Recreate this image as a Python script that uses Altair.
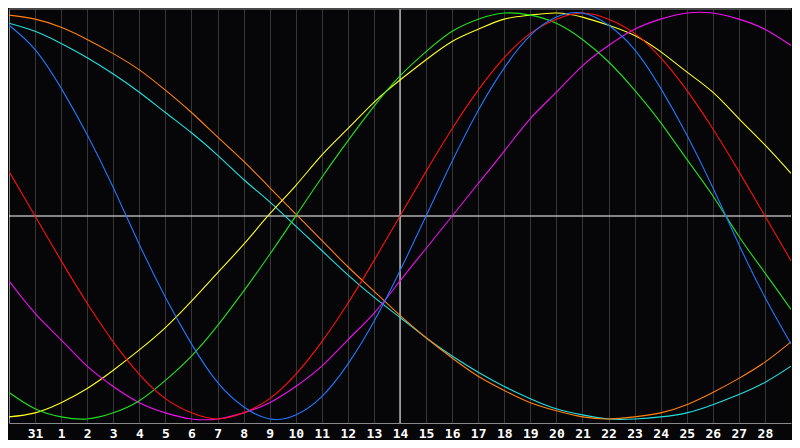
import altair as alt
import pandas as pd

# day index 0..30 across the plot, labelled gridlines at 1..29
days = list(range(31))
day_ticks = list(range(1, 30))
day_labels = ["31"] + [str(d) for d in range(1, 29)]
today = 15

# cycle values, one per day
physical = [0.94, 0.82, 0.63, 0.40, 0.14, -0.14, -0.40, -0.63, -0.82, -0.94, -1.0,
            -0.98, -0.89, -0.73, -0.52, -0.27, 0.0, 0.27, 0.52, 0.73, 0.89, 0.98,
            1.0, 0.94, 0.82, 0.63, 0.40, 0.14, -0.14, -0.40, -0.63]
emotional = [0.22, 0.0, -0.22, -0.43, -0.62, -0.78, -0.90, -0.97, -1.0, -0.97, -0.90,
             -0.78, -0.62, -0.43, -0.22, 0.0, 0.22, 0.43, 0.62, 0.78, 0.90, 0.97,
             1.0, 0.97, 0.90, 0.78, 0.62, 0.43, 0.22, 0.0, -0.22]
intellectual = [-0.87, -0.95, -0.99, -1.0, -0.97, -0.91, -0.81, -0.69, -0.54, -0.37, -0.19,
                0.0, 0.19, 0.37, 0.54, 0.69, 0.81, 0.91, 0.97, 1.0, 0.99, 0.95,
                0.87, 0.76, 0.62, 0.46, 0.28, 0.10, -0.10, -0.28, -0.46]
intuitive = [-0.32, -0.48, -0.61, -0.74, -0.84, -0.92, -0.97, -1.0, -1.0, -0.97, -0.92,
             -0.84, -0.74, -0.61, -0.48, -0.32, -0.16, 0.0, 0.16, 0.32, 0.48, 0.61,
             0.74, 0.84, 0.92, 0.97, 1.0, 1.0, 0.97, 0.92, 0.84]
aesthetic = [-0.99, -0.97, -0.92, -0.85, -0.76, -0.66, -0.55, -0.42, -0.28, -0.14, 0.01,
             0.15, 0.30, 0.43, 0.56, 0.67, 0.77, 0.86, 0.92, 0.97, 0.99, 1.0,
             0.98, 0.94, 0.89, 0.81, 0.71, 0.61, 0.48, 0.35, 0.21]
awareness = [0.99, 0.97, 0.93, 0.87, 0.80, 0.72, 0.62, 0.51, 0.39, 0.27, 0.14,
             0.01, -0.12, -0.25, -0.37, -0.49, -0.60, -0.70, -0.79, -0.86, -0.92, -0.96,
             -0.99, -1.0, -0.99, -0.97, -0.93, -0.87, -0.80, -0.72, -0.62]
spiritual = [0.95, 0.91, 0.85, 0.78, 0.70, 0.61, 0.51, 0.41, 0.30, 0.18, 0.07,
             -0.05, -0.17, -0.29, -0.40, -0.50, -0.60, -0.69, -0.77, -0.84, -0.90, -0.95,
             -0.98, -1.0, -1.0, -0.99, -0.97, -0.93, -0.88, -0.82, -0.74]

cycles = ["Spiritual", "Awareness", "Aesthetic", "Intuitive", "Intellectual", "Emotional", "Physical"]
colors = ["#20e0e0", "#ff8010", "#ffff20", "#f010f0", "#20e020", "#ff1010", "#1e78ff"]
values = [spiritual, awareness, aesthetic, intuitive, intellectual, emotional, physical]

rows = []
for name, vals in zip(cycles, values):
    for d, v in zip(days, vals):
        rows.append({"day": d, "cycle": name, "value": v})
df = pd.DataFrame(rows)

label_expr = "[" + ",".join(f"'{s}'" for s in day_labels) + "][datum.value - 1]"

x_enc = alt.X(
    "day:Q",
    scale=alt.Scale(domain=[0, 30], nice=False, zero=False),
    axis=alt.Axis(
        values=day_ticks,
        labelExpr=label_expr,
        title=None,
        grid=True,
        gridColor="#363636",
        gridWidth=1,
        ticks=False,
        domainColor="#8a8a8a",
        labelColor="white",
        labelFont="DejaVu Sans Mono",
        labelFontWeight="bold",
        labelFontSize=13,
        labelPadding=4,
    ),
)
y_max = 1.02
y_enc = alt.Y(
    "value:Q",
    scale=alt.Scale(domain=[-y_max, y_max], nice=False, zero=False),
    axis=alt.Axis(title=None, labels=False, ticks=False, grid=False, domainColor="#8a8a8a"),
)

center = alt.Chart(pd.DataFrame({"day": [today]})).mark_rule(
    color="white", strokeWidth=1
).encode(x=x_enc)
zero = alt.Chart(pd.DataFrame({"value": [0.0]})).mark_rule(
    color="white", strokeWidth=1.2
).encode(y=y_enc)
top = alt.Chart(pd.DataFrame({"value": [y_max]})).mark_rule(
    color="#8a8a8a", strokeWidth=1
).encode(y=y_enc)

lines = alt.Chart(df).mark_line(strokeWidth=1.1, interpolate="natural", clip=True).encode(
    x=x_enc,
    y=y_enc,
    color=alt.Color("cycle:N", scale=alt.Scale(domain=cycles, range=colors), legend=None),
)

chart = (
    alt.layer(center, zero, top, lines)
    .properties(
        width=784,
        height=432,
        background="#060608",
        padding=0,
        autosize=alt.AutoSizeParams(type="fit", contains="padding"),
    )
    .configure_view(strokeWidth=0)
)

chart.save("out.html", embed_options={"renderer": "svg", "actions": False})
